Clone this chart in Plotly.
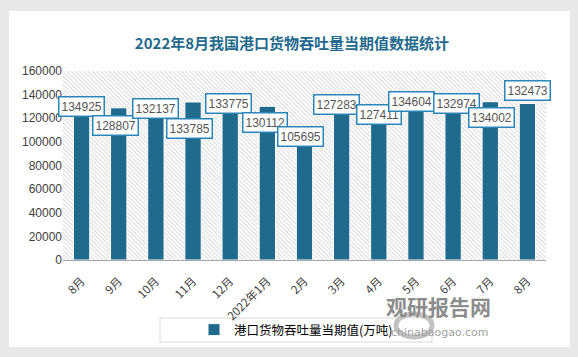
import base64
import plotly.graph_objects as go

months = ["8月", "9月", "10月", "11月", "12月", "2022年1月", "2月", "3月", "4月", "5月", "6月", "7月", "8月"]
values = [134925, 128807, 132137, 133785, 133775, 130112, 105695, 127283, 127411, 134604, 132974, 134002, 132473]
# label box offsets (px) relative to bar top: (dx, dy downward)
label_dx = [0, -3, 0, -4, -2, -2, -4, -5, 0, -4, 3, 1, 0]
label_dy = [6, 18, 5, 27, 2, 16, 1, -5, 5, 0, 1, 16, -13]
y_ticks = [0, 20000, 40000, 60000, 80000, 100000, 120000, 140000, 160000]
title = "2022年8月我国港口货物吞吐量当期值数据统计"
series_name = "港口货物吞吐量当期值(万吨)"

W, H = 578, 357
L, R, T, B = 63, 32, 71, 97
pw, ph = W - L - R, H - T - B


def px(x):
    return (x - L) / pw


def py(y):
    return (H - B - y) / ph


bar_color = "#1f6a8d"
cats = list(range(len(months)))

fig = go.Figure()
fig.add_trace(go.Bar(
    x=cats, y=values, name=series_name,
    marker=dict(color=bar_color, line=dict(color="white", width=1)),
    width=0.44, showlegend=True,
))

for i, v in enumerate(values):
    fig.add_annotation(
        x=cats[i], y=v, xref="x", yref="y",
        text=f"{v}", showarrow=False,
        xshift=label_dx[i], yshift=-label_dy[i],
        font=dict(family="Liberation Sans", size=12, color="#555555"),
        bgcolor="white", bordercolor="#2b86b8", borderwidth=1.5, borderpad=2,
        xanchor="center", yanchor="middle",
    )

# hatch background for plot area
svg = f'''<svg xmlns="http://www.w3.org/2000/svg" width="{pw}" height="{ph}" viewBox="0 0 {pw} {ph}" preserveAspectRatio="none">
<defs><pattern id="h" patternUnits="userSpaceOnUse" width="4" height="3" patternTransform="rotate(45)">
<rect width="4" height="3" fill="white"/><line x1="0" y1="0.5" x2="4" y2="0.5" stroke="#dadada" stroke-width="1"/></pattern></defs>
<rect width="{pw}" height="{ph}" fill="url(#h)"/></svg>'''
src = "data:image/svg+xml;base64," + base64.b64encode(svg.encode()).decode()
fig.add_layout_image(dict(source=src, xref="x domain", yref="y domain", x=0, y=1,
                          sizex=1, sizey=1, sizing="stretch", layer="below",
                          xanchor="left", yanchor="top"))

# white card
fig.add_shape(type="rect", xref="paper", yref="paper",
              x0=px(9), x1=px(570), y0=py(347), y1=py(11),
              fillcolor="white", line=dict(width=0), layer="below")
# legend frame
fig.add_shape(type="rect", xref="paper", yref="paper",
              x0=px(160), x1=px(432), y0=py(342), y1=py(318),
              fillcolor="white", line=dict(color="#d9d9d9", width=1), layer="below")

# watermark
fig.add_shape(type="circle", xref="paper", yref="paper",
              x0=px(396), x1=px(432), y0=py(337), y1=py(314),
              line=dict(color="#c2c2c2", width=5), fillcolor="rgba(0,0,0,0)", layer="above")
fig.add_annotation(x=px(493), y=py(323), xref="paper", yref="paper",
                   text="<b>观研报告网</b>", showarrow=False,
                   font=dict(family="Noto Sans CJK SC", size=21, color="#8c8c8c"))
fig.add_annotation(x=px(491), y=py(341), xref="paper", yref="paper",
                   text="chinabaogao.com", showarrow=False,
                   font=dict(family="DejaVu Sans", size=11, color="#a0a0a0"))

fig.update_layout(
    width=W, height=H,
    margin=dict(l=L, r=R, t=T, b=B, pad=0),
    paper_bgcolor="#e8e8e8",
    plot_bgcolor="rgba(0,0,0,0)",
    title=dict(text=f"<b>{title}</b>", x=292 / W, xanchor="center", y=1 - 44 / H, yanchor="middle",
               font=dict(family="Noto Sans CJK SC", size=15, color="#1f6a8d")),
    legend=dict(orientation="h", x=px(194), xanchor="left", y=py(330), yanchor="middle",
                bgcolor="rgba(0,0,0,0)", borderwidth=0,
                font=dict(family="Noto Sans CJK SC", size=12.5, color="#000000")),
    xaxis=dict(type="linear", range=[-0.5, len(months) - 0.5], tickmode="array",
               tickvals=cats, ticktext=months, tickangle=-45, automargin=False,
               showgrid=False, zeroline=False, showline=True, linecolor="#a6a6a6", linewidth=1,
               ticks="outside", ticklen=9, tickcolor="rgba(0,0,0,0)",
               tickfont=dict(family="Noto Sans CJK SC", size=11.5, color="#404040")),
    yaxis=dict(range=[0, 160000], tickmode="array", tickvals=y_ticks, ticktext=[str(t) for t in y_ticks],
               showgrid=False, zeroline=False, showline=False, ticks="", automargin=False,
               tickfont=dict(family="Liberation Sans", size=12, color="#404040")),
    showlegend=True,
)

fig.write_html("out.html", config={"displayModeBar": False},
               post_script="document.body.style.margin='0';document.body.style.padding='0';")
